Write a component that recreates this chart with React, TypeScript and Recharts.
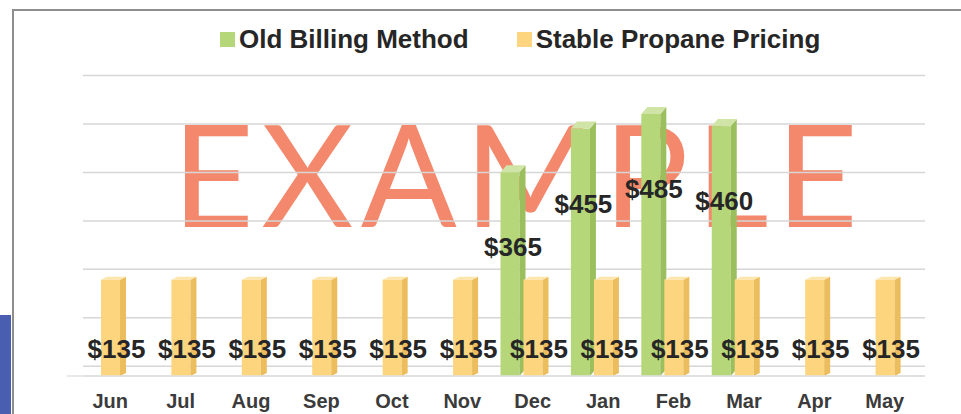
import React from 'react';
import { BarChart, Bar, XAxis, YAxis, CartesianGrid, Legend, LabelList, ReferenceLine } from 'recharts';

const months = ['Jun', 'Jul', 'Aug', 'Sep', 'Oct', 'Nov', 'Dec', 'Jan', 'Feb', 'Mar', 'Apr', 'May'];
const oldBilling: (number | null)[] = [null, null, null, null, null, null, 365, 455, 485, 460, null, null];
const stablePricing: number[] = [135, 135, 135, 135, 135, 135, 135, 135, 135, 135, 135, 135];
const seriesNames = ['Old Billing Method', 'Stable Propane Pricing'];
const yTicks = [-50, 50, 150, 250, 350, 450, 550];
const Y_MIN = -70;
const Y_MAX = 550;

const data = months.map((m, i) => ({ month: m, old: oldBilling[i], stable: stablePricing[i] }));

const FONT = '"Liberation Sans", Arial, sans-serif';

const GREEN = { front: '#b5d679', side: '#9cbf5e', cap: '#cfe4a6' };
const YELLOW = { front: '#fdd57e', side: '#ebbd5d', cap: '#fee5ac' };

const make3D = (c: { front: string; side: string; cap: string }, t: number) => (props: any) => {
  const { x, y, width, height } = props;
  if (x == null || y == null || !height || height <= 0) return <g />;
  const w = width;
  const d = Math.min(6, w / 4);
  return (
    <g>
      <rect x={x} y={y + t} width={w - d} height={height - t} fill={c.front} />
      <polygon
        points={`${x + w - d},${y + t} ${x + w},${y} ${x + w},${y + height - t} ${x + w - d},${y + height}`}
        fill={c.side}
      />
      <polygon points={`${x},${y + t} ${x + d},${y} ${x + w},${y} ${x + w - d},${y + t}`} fill={c.cap} />
    </g>
  );
};

const makeLabel = (dxOff: number, dyOff: number) => (props: any) => {
  const vb = props.viewBox && props.viewBox.x != null ? props.viewBox : props;
  const { x, y, width } = vb;
  const raw = props.value;
  const v = Array.isArray(raw) ? raw[1] : raw;
  if (v == null || x == null || y == null) return <g />;
  return (
    <text
      x={x + width / 2 + dxOff}
      y={y + dyOff}
      textAnchor="middle"
      fontFamily={FONT}
      fontWeight={700}
      fontSize={26}
      fill="#262626"
    >
      {`$${v}`}
    </text>
  );
};

const renderLegend = (props: any) => {
  const payload = props.payload || [];
  return (
    <div
      style={{
        display: 'flex',
        alignItems: 'center',
        paddingLeft: 220,
        height: 30,
        fontFamily: FONT,
        fontSize: 26,
        fontWeight: 700,
        color: '#262626',
      }}
    >
      {payload.map((p: any, i: number) => (
        <div key={i} style={{ display: 'flex', alignItems: 'center', marginRight: 48 }}>
          <span style={{ display: 'inline-block', width: 15, height: 15, background: p.color, marginRight: 4 }} />
          <span style={{ lineHeight: '30px', whiteSpace: 'nowrap' }}>{p.value}</span>
        </div>
      ))}
    </div>
  );
};

export default function App() {
  return (
    <div
      style={{
        position: 'absolute',
        left: 0,
        top: 0,
        width: 961,
        height: 414,
        background: '#ffffff',
        overflow: 'hidden',
      }}
    >
      <div
        style={{
          position: 'absolute',
          left: 12,
          top: 9,
          width: 949,
          height: 405,
          borderTop: '2px solid #8e8e8e',
          borderLeft: '2px solid #8e8e8e',
          boxSizing: 'border-box',
        }}
      />
      <div style={{ position: 'absolute', left: 0, top: 315, width: 11, height: 99, background: '#4a5eb1' }} />
      <svg width={961} height={414} style={{ position: 'absolute', left: 0, top: 0 }}>
        <text
          x={172}
          y={227}
          textLength={686}
          lengthAdjust="spacing"
          fontFamily="Lato, 'Open Sans', sans-serif"
          fontSize={142}
          fill="#f3886c"
        >
          EXAMPLE
        </text>
      </svg>
      <div style={{ position: 'absolute', left: 0, top: 0 }}>
        <BarChart
          width={961}
          height={414}
          data={data}
          margin={{ top: 75.5, right: 49, left: 67, bottom: 0 }}
          barGap={-2}
        >
          <CartesianGrid
            vertical={false}
            horizontal={true}
            stroke="#d6d6d6"
            strokeWidth={1.5}
            x={83}
            width={842}
          />
          <XAxis
            dataKey="month"
            axisLine={false}
            tickLine={false}
            height={38}
            tickMargin={12}
            interval={0}
            tick={{ fontSize: 20, fontWeight: 700, fill: '#3b3b3b', fontFamily: FONT, dx: 8 }}
          />
          <YAxis hide domain={[Y_MIN, Y_MAX]} ticks={yTicks} type="number" allowDataOverflow />
          <ReferenceLine y={Y_MIN} stroke="#e2e2e2" strokeWidth={1.5} />
          <Legend
            layout="horizontal"
            verticalAlign="middle"
            align="center"
            content={renderLegend}
            wrapperStyle={{ top: 24, left: 0, width: 961, height: 30 }}
          />
          <Bar
            name={seriesNames[0]}
            dataKey={(d: any) => (d.old == null ? null : [Y_MIN, d.old])}
            fill={GREEN.front}
            barSize={25}
            shape={make3D(GREEN, 7)}
            isAnimationActive={false}
          >
            <LabelList content={makeLabel(0, 91)} />
          </Bar>
          <Bar
            name={seriesNames[1]}
            dataKey={(d: any) => [Y_MIN, d.stable]}
            fill={YELLOW.front}
            barSize={25}
            shape={make3D(YELLOW, 3)}
            isAnimationActive={false}
          >
            <LabelList content={makeLabel(3, 81)} />
          </Bar>
        </BarChart>
      </div>
    </div>
  );
}
